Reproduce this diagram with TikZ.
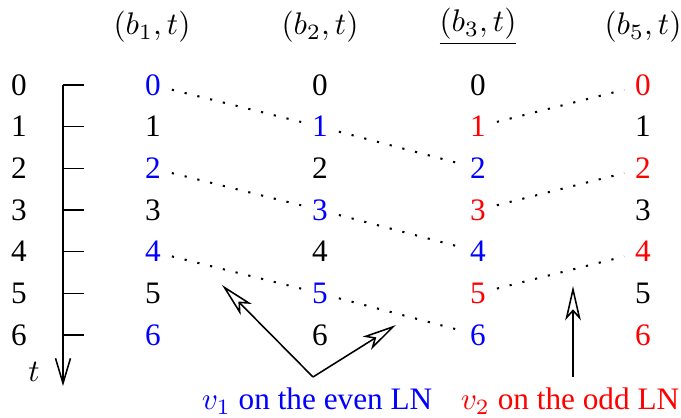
\documentclass[tikz,border=0pt]{standalone}
\usepackage{fontspec}
\setmainfont{Liberation Serif}
\usetikzlibrary{arrows.meta}

\begin{document}
\begin{tikzpicture}[
  x=0.32pt, y=-0.32pt,
  hop/.style={line width=0.65pt,dash pattern=on 0.7pt off 3.5pt},
  pointer/.style={line width=0.5pt,-{Stealth[open,length=11pt,width=5pt,inset=2.8pt]}}
]
\useasboundingbox (0,0) rectangle (681,418);
% column heads
\node (h1) at (152,27) {$(b_1,t)$};
\node (h2) at (320,27) {$(b_2,t)$};
\node (h3) at (478,27) {$\underline{(b_3,t)}$};
\node (h5) at (643,27) {$(b_5,t)$};
% time axis
\coordinate (top) at (63,85);
\coordinate (bot) at (63,386);
\draw[line width=0.5pt,-{Straight Barb[length=8pt,width=4.8pt]}] (top) -- (bot);
\node (t) at (34,372) {$t$};
% rows of time steps
\foreach \r/\ca/\cb/\cc/\cd in {0/blue/black/black/red,1/black/blue/red/black,
  2/blue/black/blue/red,3/black/blue/red/black,4/blue/black/blue/red,
  5/black/blue/red/black,6/blue/black/blue/red}{
  \pgfmathsetmacro{\y}{85+41.67*\r}
  \node (n\r) at (19,\y) {\r};
  \coordinate (k\r) at (63,\y);
  \draw[line width=0.5pt] (k\r) -- ++(21,0);
  \node[text=\ca] (a\r) at (153,\y) {\r};
  \node[text=\cb] (b\r) at (320,\y) {\r};
  \node[text=\cc] (c\r) at (478,\y) {\r};
  \node[text=\cd] (d\r) at (643,\y) {\r};
}
% even LN hops
\draw[hop] (a0) -- (b1) -- (c2);
\draw[hop] (a2) -- (b3) -- (c4);
\draw[hop] (a4) -- (b5) -- (c6);
% odd LN hops
\draw[hop] (c1) -- (d0);
\draw[hop] (c3) -- (d2);
\draw[hop] (c5) -- (d4);
% notes
\node[text=blue] (v1) at (317,401) {$v_1$ on the even LN};
\node[text=red] (v2) at (570,401) {$v_2$ on the odd LN};
\coordinate (p1) at (313,377);
\coordinate (q1) at (222,285);
\coordinate (q2) at (396,325);
\coordinate (p2) at (573,377);
\coordinate (q3) at (573,286);
\draw[pointer] (p1) -- (q1);
\draw[pointer] (p1) -- (q2);
\draw[pointer] (p2) -- (q3);
\end{tikzpicture}
\end{document}
